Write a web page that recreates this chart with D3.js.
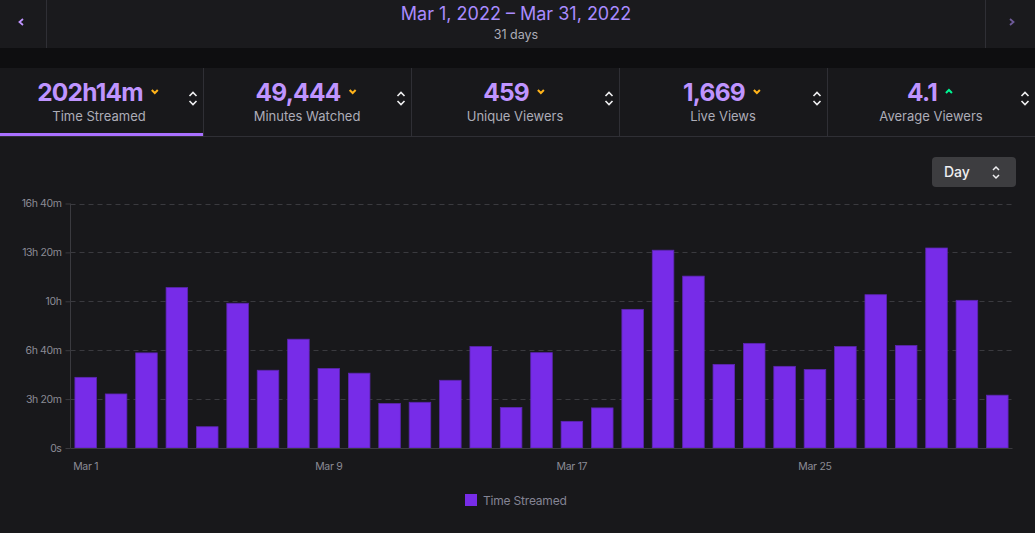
<!DOCTYPE html>
<html>
<head>
<meta charset="utf-8">
<script src="https://cdn.jsdelivr.net/npm/d3@7"></script>
<style>
  html, body { margin: 0; padding: 0; background: #18181b; overflow: hidden; }
  svg { display: block; font-family: Inter, "Noto Sans", sans-serif; }
</style>
</head>
<body>
<div id="chart"></div>
<script>
// Daily time streamed, in minutes (Mar 1 - Mar 31, 2022)
const days = d3.range(1, 32).map(d => "Mar " + d);
const minutesStreamed = [289, 221, 389, 656, 87, 592, 318, 445, 325, 306, 182, 187, 277, 415, 166, 390,
    109, 164, 567, 809, 703, 342, 428, 334, 321, 415, 627, 419, 818, 604, 216];
const yTicks = [0, 200, 400, 600, 800, 1000];
const yTickLabels = ["0s", "3h 20m", "6h 40m", "10h", "13h 20m", "16h 40m"];
const xTickLabels = ["Mar 1", "Mar 9", "Mar 17", "Mar 25"];

const statValues = ["202h14m", "49,444", "459", "1,669", "4.1"];
const statLabels = ["Time Streamed", "Minutes Watched", "Unique Viewers", "Live Views", "Average Viewers"];
const statTrend = ["down", "down", "down", "down", "up"];

const W = 1035, H = 533;
const purple = "#772ce8";

const svg = d3.select("#chart")
    .append("svg")
    .attr("width", W)
    .attr("height", H);

svg.append("rect").attr("width", W).attr("height", H).attr("fill", "#18181b");

// Header with date range
svg.append("rect").attr("width", W).attr("height", 48).attr("fill", "#1a1a1d");
svg.append("rect").attr("y", 48).attr("width", W).attr("height", 20).attr("fill", "#0e0e10");
svg.append("line").attr("x1", 46.5).attr("x2", 46.5).attr("y1", 0).attr("y2", 48).attr("stroke", "#2f2f35");
svg.append("line").attr("x1", 985.5).attr("x2", 985.5).attr("y1", 0).attr("y2", 48).attr("stroke", "#2f2f35");

// nav chevrons
svg.append("path").attr("d", "M23,19 L19.5,22 L23,25").attr("fill", "none")
    .attr("stroke", "#bf94ff").attr("stroke-width", 1.8);
svg.append("path").attr("d", "M1010,19 L1013.5,22 L1010,25").attr("fill", "none")
    .attr("stroke", "#6e5a99").attr("stroke-width", 1.8);

svg.append("text")
    .attr("x", 516).attr("y", 20)
    .attr("text-anchor", "middle")
    .style("font-size", "18px")
    .style("fill", "#a98bff")
    .text("Mar 1, 2022 – Mar 31, 2022");

svg.append("text")
    .attr("x", 516).attr("y", 39)
    .attr("text-anchor", "middle")
    .style("font-size", "12.5px")
    .style("fill", "#adadb8")
    .text("31 days");

// Stat cards
const cardW = 208, cardX0 = -5;
const cards = svg.selectAll(".card")
    .data(statValues)
    .enter().append("g")
    .attr("class", "card")
    .attr("transform", (d, i) => `translate(${cardX0 + i * cardW},68)`);

cards.append("rect").attr("width", cardW).attr("height", 68).attr("fill", "#18181b");
cards.filter((d, i) => i > 0).append("line")
    .attr("x1", 0.5).attr("x2", 0.5).attr("y1", 0).attr("y2", 68)
    .attr("stroke", "#2f2f35");

cards.append("text")
    .attr("class", "stat-value")
    .attr("x", cardW / 2 - 9)
    .attr("y", 33)
    .attr("text-anchor", "middle")
    .style("font-size", "24.5px")
    .style("font-weight", "bold")
    .style("letter-spacing", "-0.8px")
    .style("fill", "#bf94ff")
    .text(d => d);

cards.each(function(d, i) {
    const g = d3.select(this);
    const bb = g.select(".stat-value").node().getBBox();
    const cx = bb.x + bb.width + 12, cy = 23;
    const up = statTrend[i] === "up";
    g.append("path")
        .attr("d", up ? `M${cx - 3},${cy + 2} L${cx},${cy - 1} L${cx + 3},${cy + 2}`
                      : `M${cx - 3},${cy - 1} L${cx},${cy + 2} L${cx + 3},${cy - 1}`)
        .attr("fill", "none")
        .attr("stroke", up ? "#00f593" : "#ffb31a")
        .attr("stroke-width", 2);
    // sort arrows
    const sx = 198, sy = 31;
    g.append("path").attr("d", `M${sx - 3.5},${sy - 3} L${sx},${sy - 6.5} L${sx + 3.5},${sy - 3}`)
        .attr("fill", "none").attr("stroke", "#efeff1").attr("stroke-width", 1.6);
    g.append("path").attr("d", `M${sx - 3.5},${sy + 2} L${sx},${sy + 5.5} L${sx + 3.5},${sy + 2}`)
        .attr("fill", "none").attr("stroke", "#efeff1").attr("stroke-width", 1.6);
});

cards.append("text")
    .attr("x", cardW / 2)
    .attr("y", 53)
    .attr("text-anchor", "middle")
    .style("font-size", "13px")
    .style("fill", "#adadb8")
    .text((d, i) => statLabels[i]);

svg.append("rect").attr("x", 0).attr("y", 133).attr("width", 203).attr("height", 3).attr("fill", "#a970ff");
svg.append("line").attr("x1", 0).attr("x2", W).attr("y1", 136.5).attr("y2", 136.5).attr("stroke", "#2f2f35");

// Day selector
svg.append("rect").attr("x", 932).attr("y", 157).attr("width", 84).attr("height", 30).attr("rx", 4)
    .attr("fill", "#3d3d40");
svg.append("text").attr("x", 944).attr("y", 177).style("font-size", "14px").style("font-weight", 500)
    .style("fill", "#efeff1").text("Day");
svg.append("path").attr("d", "M993,170 L996,167 L999,170").attr("fill", "none")
    .attr("stroke", "#efeff1").attr("stroke-width", 1.5);
svg.append("path").attr("d", "M993,175 L996,178 L999,175").attr("fill", "none")
    .attr("stroke", "#efeff1").attr("stroke-width", 1.5);

// Chart
const margin = { left: 70.5, top: 203.5, right: 1012.5, bottom: 448 };

const xScale = d3.scaleBand()
    .domain(days)
    .range([margin.left, margin.right])
    .paddingInner(0.29)
    .paddingOuter(0.145);

const yScale = d3.scaleLinear()
    .domain([0, 1000])
    .range([margin.bottom, margin.top]);

// gridlines
svg.append("g")
    .selectAll("line")
    .data(yTicks.slice(1))
    .enter().append("line")
    .attr("x1", margin.left)
    .attr("x2", margin.right)
    .attr("y1", d => Math.round(yScale(d)) + 0.5)
    .attr("y2", d => Math.round(yScale(d)) + 0.5)
    .attr("stroke", "#3a3a3f")
    .attr("stroke-dasharray", "5,4");

// y axis
const yAxis = d3.axisLeft(yScale)
    .tickValues(yTicks)
    .tickFormat((d, i) => yTickLabels[i])
    .tickSize(5)
    .tickPadding(4);

const yG = svg.append("g")
    .attr("transform", `translate(${margin.left},0)`)
    .call(yAxis);
yG.select(".domain").attr("stroke", "#3a3a3f").attr("d", `M0,${margin.top}V${margin.bottom}`);
yG.selectAll(".tick line").attr("stroke", "#3a3a3f");
yG.selectAll(".tick text")
    .style("font-size", "10.5px")
    .style("letter-spacing", "-0.4px")
    .style("fill", "#8b8b95")
    .style("font-family", "Inter, sans-serif");

// bars
svg.selectAll(".bar")
    .data(minutesStreamed)
    .enter().append("rect")
    .attr("class", "bar")
    .attr("x", (d, i) => xScale(days[i]))
    .attr("y", d => yScale(d))
    .attr("width", xScale.bandwidth())
    .attr("height", d => margin.bottom - yScale(d))
    .attr("fill", purple)
    .attr("stroke", "#5b26b0")
    .attr("stroke-width", 0.8);

// x axis
const xAxis = d3.axisBottom(xScale)
    .tickValues(xTickLabels)
    .tickSize(0)
    .tickPadding(15);

const xG = svg.append("g")
    .attr("transform", `translate(0,${margin.bottom})`)
    .call(xAxis);
xG.select(".domain").attr("stroke", "#3a3a3f").attr("d", `M${margin.left},0.5H${margin.right}`);
xG.selectAll(".tick text")
    .style("font-size", "10.5px")
    .style("letter-spacing", "-0.3px")
    .style("fill", "#8b8b95")
    .style("font-family", "Inter, sans-serif");

// legend
svg.append("rect").attr("x", 465).attr("y", 494).attr("width", 12).attr("height", 12).attr("fill", purple);
svg.append("text").attr("x", 483).attr("y", 505)
    .style("font-size", "12px")
    .style("letter-spacing", "-0.2px")
    .style("fill", "#848494")
    .text("Time Streamed");
</script>
</body>
</html>
